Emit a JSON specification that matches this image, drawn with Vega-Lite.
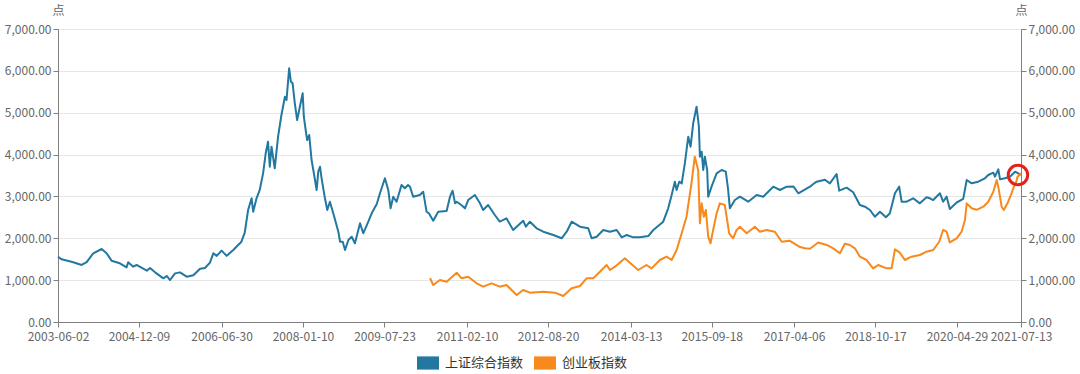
{
"$schema": "https://vega.github.io/schema/vega-lite/v6.json",
"width": 963, "height": 293,
"autosize": {"type": "none"},
"padding": {"left": 58, "top": 29, "right": 59, "bottom": 52},
"background": "#ffffff",
"config": {"view": {"stroke": null}, "font": "Noto Sans CJK SC"},
"datasets": {
"sh": [
{"date":"2003-06-02","value":1560},{"date":"2003-06-27","value":1497},{"date":"2003-09-15","value":1426},{"date":"2003-11-11","value":1362},{"date":"2003-12-16","value":1430},{"date":"2004-01-30","value":1641},{"date":"2004-03-28","value":1744},{"date":"2004-05-01","value":1641},{"date":"2004-06-04","value":1465},{"date":"2004-07-31","value":1402},{"date":"2004-09-15","value":1306},{"date":"2004-09-26","value":1426},{"date":"2004-10-31","value":1322},{"date":"2004-11-23","value":1362},{"date":"2005-02-01","value":1226},{"date":"2005-02-23","value":1290},{"date":"2005-03-30","value":1186},{"date":"2005-05-26","value":1043},{"date":"2005-06-18","value":1100},{"date":"2005-07-11","value":1003},{"date":"2005-08-14","value":1162},{"date":"2005-09-17","value":1186},{"date":"2005-11-02","value":1083},{"date":"2005-12-18","value":1115},{"date":"2006-02-02","value":1274},{"date":"2006-03-08","value":1290},{"date":"2006-04-11","value":1418},{"date":"2006-05-04","value":1641},{"date":"2006-05-27","value":1580},{"date":"2006-06-30","value":1705},{"date":"2006-08-04","value":1580},{"date":"2006-09-18","value":1720},{"date":"2006-11-03","value":1880},{"date":"2006-11-13","value":1918},{"date":"2006-12-06","value":2134},{"date":"2006-12-29","value":2676},{"date":"2007-01-22","value":2955},{"date":"2007-02-02","value":2635},{"date":"2007-02-25","value":2955},{"date":"2007-03-19","value":3154},{"date":"2007-04-11","value":3552},{"date":"2007-04-29","value":4030},{"date":"2007-05-15","value":4307},{"date":"2007-05-27","value":3710},{"date":"2007-06-08","value":4188},{"date":"2007-06-30","value":3672},{"date":"2007-07-23","value":4427},{"date":"2007-08-15","value":4945},{"date":"2007-09-08","value":5382},{"date":"2007-09-19","value":5304},{"date":"2007-10-07","value":6061},{"date":"2007-10-19","value":5741},{"date":"2007-10-31","value":5702},{"date":"2007-11-15","value":5225},{"date":"2007-12-01","value":4826},{"date":"2007-12-15","value":5065},{"date":"2008-01-08","value":5464},{"date":"2008-01-16","value":4905},{"date":"2008-01-30","value":4546},{"date":"2008-02-08","value":4348},{"date":"2008-02-22","value":4467},{"date":"2008-03-09","value":3870},{"date":"2008-03-25","value":3552},{"date":"2008-04-13","value":3154},{"date":"2008-04-24","value":3591},{"date":"2008-05-06","value":3710},{"date":"2008-05-17","value":3433},{"date":"2008-06-09","value":2955},{"date":"2008-06-25","value":2676},{"date":"2008-07-13","value":2874},{"date":"2008-08-05","value":2597},{"date":"2008-08-24","value":2358},{"date":"2008-09-09","value":2157},{"date":"2008-09-21","value":1918},{"date":"2008-10-09","value":1918},{"date":"2008-10-25","value":1720},{"date":"2008-11-17","value":1959},{"date":"2008-12-10","value":2038},{"date":"2009-01-01","value":1880},{"date":"2009-02-05","value":2358},{"date":"2009-02-27","value":2119},{"date":"2009-04-03","value":2396},{"date":"2009-04-26","value":2597},{"date":"2009-05-31","value":2819},{"date":"2009-06-22","value":3075},{"date":"2009-07-26","value":3433},{"date":"2009-08-18","value":3154},{"date":"2009-09-03","value":2716},{"date":"2009-09-21","value":2994},{"date":"2009-10-14","value":2874},{"date":"2009-11-17","value":3273},{"date":"2009-12-10","value":3194},{"date":"2010-01-01","value":3273},{"date":"2010-01-14","value":3233},{"date":"2010-02-05","value":2994},{"date":"2010-03-23","value":3034},{"date":"2010-04-15","value":3113},{"date":"2010-05-08","value":2635},{"date":"2010-05-24","value":2597},{"date":"2010-06-23","value":2420},{"date":"2010-07-27","value":2635},{"date":"2010-09-23","value":2650},{"date":"2010-10-16","value":2994},{"date":"2010-11-03","value":3137},{"date":"2010-11-20","value":2835},{"date":"2010-12-01","value":2874},{"date":"2011-01-04","value":2790},{"date":"2011-01-27","value":2716},{"date":"2011-02-18","value":2914},{"date":"2011-04-05","value":3034},{"date":"2011-05-10","value":2835},{"date":"2011-06-01","value":2676},{"date":"2011-07-05","value":2795},{"date":"2011-08-20","value":2556},{"date":"2011-09-23","value":2400},{"date":"2011-11-08","value":2477},{"date":"2011-12-24","value":2198},{"date":"2012-03-02","value":2420},{"date":"2012-03-20","value":2277},{"date":"2012-04-17","value":2396},{"date":"2012-06-02","value":2238},{"date":"2012-07-18","value":2157},{"date":"2012-09-25","value":2078},{"date":"2012-11-21","value":2000},{"date":"2012-12-26","value":2157},{"date":"2013-01-29","value":2396},{"date":"2013-03-27","value":2277},{"date":"2013-05-23","value":2238},{"date":"2013-06-15","value":2000},{"date":"2013-07-20","value":2038},{"date":"2013-09-03","value":2198},{"date":"2013-10-19","value":2157},{"date":"2013-12-04","value":2198},{"date":"2014-01-08","value":2023},{"date":"2014-02-11","value":2078},{"date":"2014-03-28","value":2023},{"date":"2014-05-13","value":2023},{"date":"2014-07-09","value":2054},{"date":"2014-08-13","value":2198},{"date":"2014-10-20","value":2396},{"date":"2014-11-23","value":2716},{"date":"2014-12-17","value":3034},{"date":"2015-01-08","value":3352},{"date":"2015-01-20","value":3154},{"date":"2015-02-07","value":3352},{"date":"2015-02-24","value":3313},{"date":"2015-03-18","value":3800},{"date":"2015-04-10","value":4427},{"date":"2015-04-26","value":4188},{"date":"2015-05-14","value":4747},{"date":"2015-06-06","value":5145},{"date":"2015-06-22","value":4666},{"date":"2015-06-29","value":3950},{"date":"2015-07-11","value":4069},{"date":"2015-07-22","value":3631},{"date":"2015-08-02","value":3950},{"date":"2015-08-18","value":3631},{"date":"2015-08-25","value":2994},{"date":"2015-09-17","value":3233},{"date":"2015-10-22","value":3552},{"date":"2015-11-25","value":3631},{"date":"2015-12-24","value":3591},{"date":"2016-01-09","value":3154},{"date":"2016-01-21","value":2716},{"date":"2016-02-24","value":2914},{"date":"2016-03-30","value":2994},{"date":"2016-05-26","value":2874},{"date":"2016-07-23","value":3034},{"date":"2016-09-06","value":2994},{"date":"2016-11-14","value":3233},{"date":"2016-12-30","value":3154},{"date":"2017-02-14","value":3233},{"date":"2017-04-01","value":3240},{"date":"2017-05-05","value":3075},{"date":"2017-07-24","value":3233},{"date":"2017-08-16","value":3297},{"date":"2017-09-08","value":3352},{"date":"2017-11-04","value":3400},{"date":"2017-12-08","value":3313},{"date":"2018-01-23","value":3536},{"date":"2018-02-10","value":3137},{"date":"2018-04-02","value":3210},{"date":"2018-05-17","value":3100},{"date":"2018-07-02","value":2795},{"date":"2018-08-06","value":2755},{"date":"2018-09-09","value":2676},{"date":"2018-10-13","value":2516},{"date":"2018-11-17","value":2635},{"date":"2018-12-28","value":2501},{"date":"2019-01-24","value":2597},{"date":"2019-02-28","value":3075},{"date":"2019-03-29","value":3233},{"date":"2019-04-15","value":2874},{"date":"2019-05-19","value":2874},{"date":"2019-07-03","value":2955},{"date":"2019-08-18","value":2835},{"date":"2019-10-03","value":2979},{"date":"2019-10-26","value":2955},{"date":"2019-11-18","value":2914},{"date":"2020-01-03","value":3075},{"date":"2020-01-25","value":2874},{"date":"2020-02-18","value":2994},{"date":"2020-03-11","value":2700},{"date":"2020-04-27","value":2855},{"date":"2020-06-11","value":2940},{"date":"2020-07-05","value":3392},{"date":"2020-08-08","value":3313},{"date":"2020-09-22","value":3352},{"date":"2020-11-07","value":3433},{"date":"2020-11-30","value":3512},{"date":"2021-01-04","value":3567},{"date":"2021-01-15","value":3472},{"date":"2021-02-07","value":3648},{"date":"2021-02-19","value":3409},{"date":"2021-03-25","value":3433},{"date":"2021-04-28","value":3472},{"date":"2021-06-02","value":3591},{"date":"2021-06-24","value":3552},{"date":"2021-07-13","value":3512}
],
"cy": [
{"date":"2010-06-01","value":1050},{"date":"2010-06-23","value":884},{"date":"2010-08-08","value":1003},{"date":"2010-09-23","value":963},{"date":"2010-12-01","value":1178},{"date":"2011-01-04","value":1043},{"date":"2011-02-18","value":1083},{"date":"2011-04-17","value":924},{"date":"2011-06-01","value":844},{"date":"2011-07-29","value":924},{"date":"2011-09-23","value":844},{"date":"2011-11-08","value":884},{"date":"2012-01-17","value":645},{"date":"2012-03-02","value":765},{"date":"2012-04-17","value":701},{"date":"2012-07-18","value":725},{"date":"2012-10-06","value":701},{"date":"2012-12-02","value":621},{"date":"2013-01-29","value":805},{"date":"2013-03-27","value":860},{"date":"2013-05-12","value":1043},{"date":"2013-06-26","value":1043},{"date":"2013-08-11","value":1202},{"date":"2013-09-26","value":1362},{"date":"2013-10-19","value":1242},{"date":"2013-11-22","value":1322},{"date":"2014-01-30","value":1521},{"date":"2014-03-05","value":1418},{"date":"2014-05-01","value":1242},{"date":"2014-06-27","value":1362},{"date":"2014-08-01","value":1282},{"date":"2014-09-27","value":1481},{"date":"2014-11-12","value":1561},{"date":"2014-12-17","value":1481},{"date":"2015-01-20","value":1720},{"date":"2015-02-24","value":2119},{"date":"2015-03-29","value":2516},{"date":"2015-05-02","value":3313},{"date":"2015-05-25","value":3950},{"date":"2015-06-17","value":3631},{"date":"2015-06-29","value":2358},{"date":"2015-07-11","value":2835},{"date":"2015-07-26","value":2516},{"date":"2015-08-09","value":2676},{"date":"2015-08-25","value":2038},{"date":"2015-09-10","value":1880},{"date":"2015-09-28","value":2198},{"date":"2015-10-22","value":2597},{"date":"2015-11-13","value":2835},{"date":"2015-12-17","value":2795},{"date":"2016-01-02","value":2437},{"date":"2016-01-16","value":2119},{"date":"2016-02-12","value":2000},{"date":"2016-03-07","value":2198},{"date":"2016-03-30","value":2277},{"date":"2016-05-15","value":2119},{"date":"2016-07-11","value":2277},{"date":"2016-08-14","value":2157},{"date":"2016-09-29","value":2198},{"date":"2016-11-25","value":2157},{"date":"2017-01-11","value":1918},{"date":"2017-03-08","value":1940},{"date":"2017-05-17","value":1790},{"date":"2017-06-20","value":1760},{"date":"2017-07-24","value":1750},{"date":"2017-09-19","value":1900},{"date":"2017-11-16","value":1840},{"date":"2017-12-31","value":1760},{"date":"2018-02-15","value":1641},{"date":"2018-03-21","value":1870},{"date":"2018-04-24","value":1840},{"date":"2018-05-29","value":1760},{"date":"2018-07-02","value":1561},{"date":"2018-08-17","value":1481},{"date":"2018-10-01","value":1282},{"date":"2018-11-05","value":1362},{"date":"2019-01-02","value":1282},{"date":"2019-02-05","value":1282},{"date":"2019-02-28","value":1736},{"date":"2019-04-03","value":1656},{"date":"2019-05-07","value":1481},{"date":"2019-06-22","value":1561},{"date":"2019-08-18","value":1601},{"date":"2019-10-03","value":1680},{"date":"2019-11-18","value":1720},{"date":"2019-12-29","value":1918},{"date":"2020-01-25","value":2198},{"date":"2020-02-18","value":2157},{"date":"2020-03-11","value":1900},{"date":"2020-04-27","value":2000},{"date":"2020-05-31","value":2157},{"date":"2020-06-23","value":2437},{"date":"2020-07-05","value":2835},{"date":"2020-08-08","value":2716},{"date":"2020-09-11","value":2680},{"date":"2020-10-27","value":2755},{"date":"2020-11-30","value":2874},{"date":"2021-01-04","value":3113},{"date":"2021-01-27","value":3392},{"date":"2021-02-07","value":3233},{"date":"2021-03-02","value":2755},{"date":"2021-03-17","value":2676},{"date":"2021-04-16","value":2874},{"date":"2021-05-09","value":3075},{"date":"2021-05-25","value":3233},{"date":"2021-06-08","value":3313},{"date":"2021-06-19","value":3472},{"date":"2021-07-13","value":3552}
],
"mark": [{"date":"2021-06-22","value":3512}]
},
"encoding": {
"x": {"field": "date", "type": "temporal",
"scale": {"type": "utc", "domain": [{"year":2003,"month":6,"date":2,"utc":true},{"year":2021,"month":7,"date":13,"utc":true}]},
"axis": {"title": null, "labelExpr": "utcFormat(datum.value, '%Y-%m-%d')", "grid": false,
"values": [{"year":2003,"month":6,"date":2,"utc":true},{"year":2004,"month":12,"date":9,"utc":true},{"year":2006,"month":6,"date":30,"utc":true},{"year":2008,"month":1,"date":10,"utc":true},{"year":2009,"month":7,"date":23,"utc":true},{"year":2011,"month":2,"date":10,"utc":true},{"year":2012,"month":8,"date":20,"utc":true},{"year":2014,"month":3,"date":13,"utc":true},{"year":2015,"month":9,"date":18,"utc":true},{"year":2017,"month":4,"date":6,"utc":true},{"year":2018,"month":10,"date":17,"utc":true},{"year":2020,"month":4,"date":29,"utc":true},{"year":2021,"month":7,"date":13,"utc":true}],
"labelOverlap": false, "labelFlush": false, "labelBound": false, "labelFontSize": 12, "labelColor": "#666666", "labelPadding": 4,
"domainColor": "#808080", "tickColor": "#808080", "tickSize": 5}}
},
"layer": [
{
"data": {"name": "sh"},
"mark": {"type": "line", "strokeWidth": 2, "strokeJoin": "round"},
"encoding": {
"y": {"field": "value", "type": "quantitative", "scale": {"domain": [0, 7000]},
"axis": {"orient": "left", "values": [0,1000,2000,3000,4000,5000,6000,7000], "format": ",.2f", "grid": true, "gridColor": "#e6e6e6",
"domain": true, "domainColor": "#808080", "tickColor": "#808080", "tickSize": 5, "labelFontSize": 12, "labelColor": "#666666", "labelPadding": 2,
"title": "点", "titleAngle": 0, "titleX": 0, "titleY": -19, "titleAlign": "center", "titleBaseline": "middle", "titleFontWeight": "normal", "titleFontSize": 12, "titleColor": "#666666"}},
"color": {"datum": "上证综合指数", "type": "nominal",
"scale": {"domain": ["上证综合指数", "创业板指数"], "range": ["#22789f", "#f7891d"]},
"legend": {"title": null, "orient": "none", "legendX": 359, "legendY": 323, "direction": "horizontal",
"symbolType": "M-1,-0.6H1V0.6H-1Z", "symbolSize": 484, "symbolStrokeWidth": 0, "labelFontSize": 13, "labelColor": "#333333", "labelOffset": 6, "columnPadding": 10,
"encode": {"symbols": {"update": {"fill": {"scale": "color", "field": "value"}, "fillOpacity": {"value": 1}, "strokeWidth": {"value": 0}}}}}}
}
},
{
"data": {"name": "cy"},
"mark": {"type": "line", "strokeWidth": 2, "strokeJoin": "round"},
"encoding": {
"y": {"field": "value", "type": "quantitative", "scale": {"domain": [0, 7000]},
"axis": {"orient": "right", "values": [0,1000,2000,3000,4000,5000,6000,7000], "format": ",.2f", "grid": false,
"domain": true, "domainColor": "#808080", "tickColor": "#808080", "tickSize": 5, "labelFontSize": 12, "labelColor": "#666666", "labelPadding": 2,
"title": "点", "titleAngle": 0, "titleX": 0, "titleY": -19, "titleAlign": "center", "titleBaseline": "middle", "titleFontWeight": "normal", "titleFontSize": 12, "titleColor": "#666666"}},
"color": {"datum": "创业板指数", "type": "nominal"}
}
},
{
"data": {"name": "mark"},
"mark": {"type": "point", "shape": "circle", "size": 380, "filled": false, "stroke": "#e3231b", "strokeWidth": 3, "opacity": 1},
"encoding": {
"y": {"field": "value", "type": "quantitative", "scale": {"domain": [0, 7000]}, "axis": null}
}
}
],
"resolve": {"scale": {"y": "independent"}}
}
